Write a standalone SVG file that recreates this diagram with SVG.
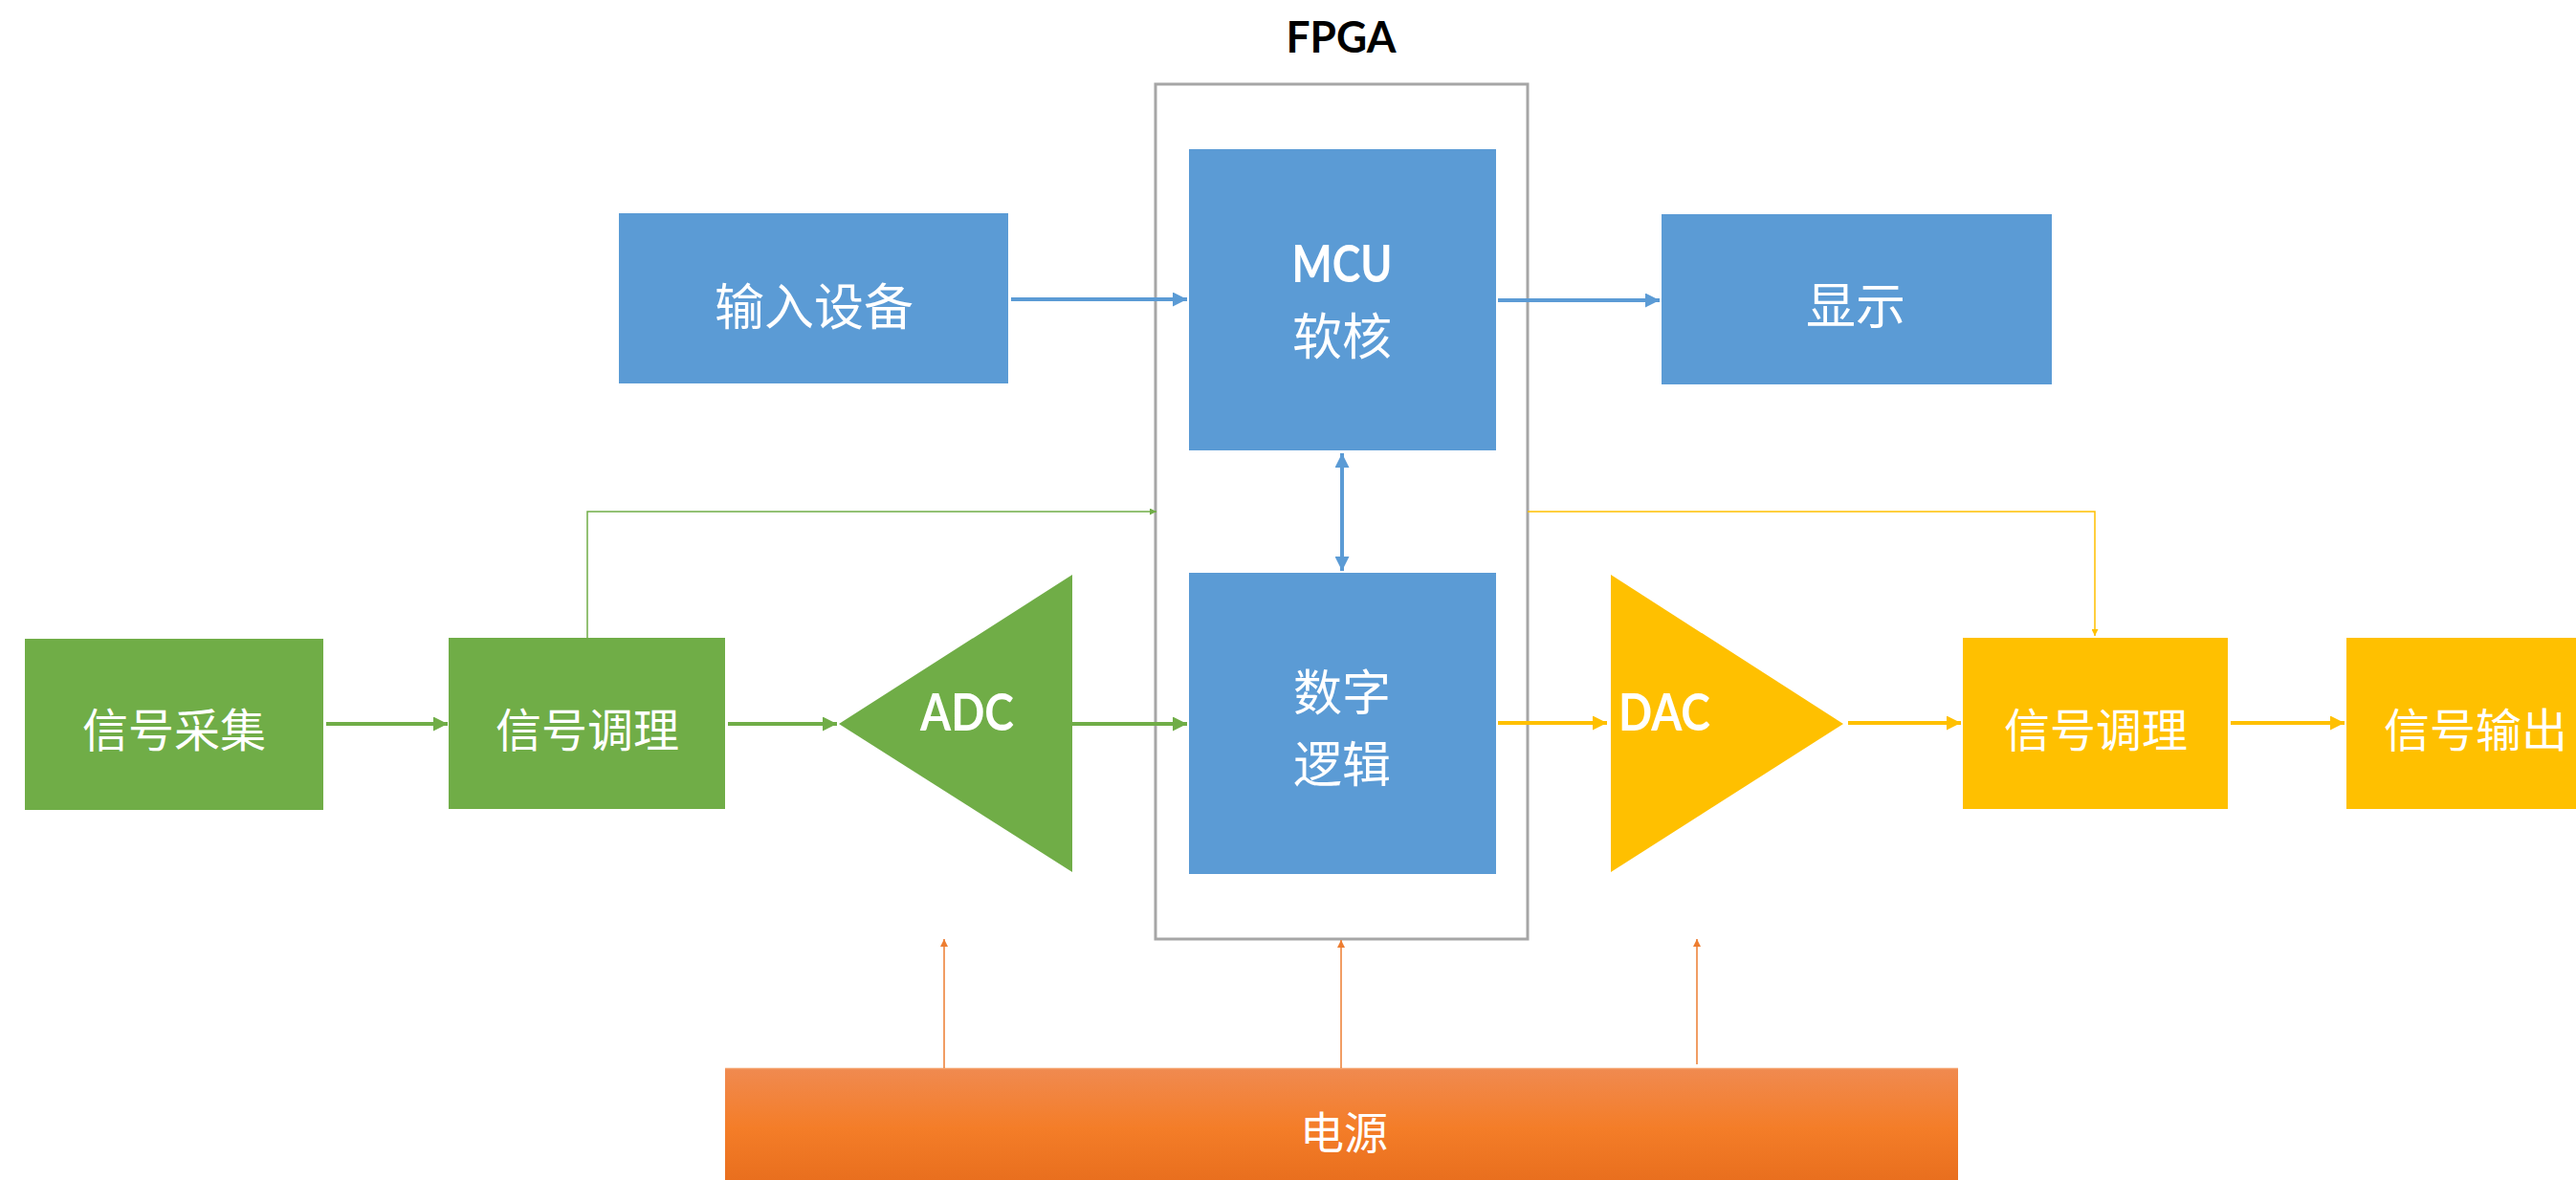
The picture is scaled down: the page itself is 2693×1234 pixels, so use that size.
<svg xmlns="http://www.w3.org/2000/svg" width="2693" height="1234" viewBox="0 0 2693 1234">
  <style>
    .blue { fill: #5b9bd5; }
    .green { fill: #70ad47; }
    .yellow { fill: #ffc000; }
    .cjk { font-family: "Noto Sans CJK SC", sans-serif; fill: #ffffff; text-anchor: middle; dominant-baseline: central; }
    .latin { font-family: Lato, "Open Sans", sans-serif; font-weight: bold; fill: #ffffff; }
    .thick { fill: none; stroke-width: 4; }
    .thin { fill: none; stroke-width: 1.5; }
  </style>
  <defs>
    <linearGradient id="powerFill" x1="0" y1="0" x2="0" y2="1">
      <stop offset="0" stop-color="#f08a50"/>
      <stop offset="0.45" stop-color="#f47d28"/>
      <stop offset="1" stop-color="#e4691a"/>
    </linearGradient>
    <marker id="arrowBlue" markerUnits="userSpaceOnUse" markerWidth="15" markerHeight="15" refX="15" refY="7.5" orient="auto-start-reverse">
      <path d="M0,0 L15,7.5 L0,15 z" fill="#5b9bd5"/>
    </marker>
    <marker id="arrowGreen" markerUnits="userSpaceOnUse" markerWidth="15" markerHeight="15" refX="15" refY="7.5" orient="auto">
      <path d="M0,0 L15,7.5 L0,15 z" fill="#70ad47"/>
    </marker>
    <marker id="arrowYellow" markerUnits="userSpaceOnUse" markerWidth="15" markerHeight="15" refX="15" refY="7.5" orient="auto">
      <path d="M0,0 L15,7.5 L0,15 z" fill="#ffc000"/>
    </marker>
    <marker id="tipGreen" markerUnits="userSpaceOnUse" markerWidth="7" markerHeight="7" refX="7" refY="3.5" orient="auto">
      <path d="M0,0 L7,3.5 L0,7 z" fill="#70ad47"/>
    </marker>
    <marker id="tipYellow" markerUnits="userSpaceOnUse" markerWidth="7" markerHeight="7" refX="7" refY="3.5" orient="auto">
      <path d="M0,0 L7,3.5 L0,7 z" fill="#ffc000"/>
    </marker>
    <marker id="tipOrange" markerUnits="userSpaceOnUse" markerWidth="8" markerHeight="8" refX="8" refY="4" orient="auto">
      <path d="M0,0 L8,4 L0,8 z" fill="#ed7d31"/>
    </marker>
  </defs>

  <rect width="2693" height="1234" fill="#ffffff"/>

  <!-- FPGA container -->
  <g id="fpga">
    <rect x="1208" y="88" width="389" height="894" fill="none" stroke="#a6a6a6" stroke-width="3"/>
    <text x="1402" y="55" font-family="Lato, 'Open Sans', sans-serif" font-weight="bold" font-size="46" fill="#000000" text-anchor="middle" textLength="115" lengthAdjust="spacingAndGlyphs">FPGA</text>
  </g>

  <!-- Blue blocks -->
  <g id="input-device">
    <rect class="blue" x="647" y="223" width="407" height="178"/>
    <text class="cjk" x="851" y="317" font-size="52">输入设备</text>
  </g>
  <g id="mcu-core">
    <rect class="blue" x="1243" y="156" width="321" height="315"/>
    <text class="latin" x="1403" y="295" font-size="53" text-anchor="middle" textLength="105" lengthAdjust="spacingAndGlyphs">MCU</text>
    <text class="cjk" x="1403" y="348" font-size="52">软核</text>
  </g>
  <g id="display">
    <rect class="blue" x="1737" y="224" width="408" height="178"/>
    <text class="cjk" x="1940" y="316" font-size="52">显示</text>
  </g>
  <g id="digital-logic">
    <rect class="blue" x="1243" y="599" width="321" height="315"/>
    <text class="cjk" x="1403" y="721" font-size="51">数字</text>
    <text class="cjk" x="1403" y="796" font-size="51">逻辑</text>
  </g>

  <!-- Input chain (green) -->
  <g id="signal-acquire">
    <rect class="green" x="26" y="668" width="312" height="179"/>
    <text class="cjk" x="182" y="760" font-size="48">信号采集</text>
  </g>
  <g id="signal-cond-in">
    <rect class="green" x="469" y="667" width="289" height="179"/>
    <text class="cjk" x="614" y="760" font-size="48">信号调理</text>
  </g>
  <g id="adc">
    <polygon class="green" points="877,757 1121,601 1121,912"/>
    <text class="latin" x="1011" y="764" font-size="54" text-anchor="middle" textLength="98" lengthAdjust="spacingAndGlyphs">ADC</text>
  </g>

  <!-- Output chain (yellow) -->
  <g id="dac">
    <polygon class="yellow" points="1684,601 1927,757 1684,912"/>
    <text class="latin" x="1692" y="764" font-size="54" textLength="96" lengthAdjust="spacingAndGlyphs">DAC</text>
  </g>
  <g id="signal-cond-out">
    <rect class="yellow" x="2052" y="667" width="277" height="179"/>
    <text class="cjk" x="2191" y="760" font-size="48">信号调理</text>
  </g>
  <g id="signal-output">
    <rect class="yellow" x="2453" y="667" width="277" height="179"/>
    <text class="cjk" x="2588" y="760" font-size="48">信号输出</text>
  </g>

  <!-- Power supply -->
  <g id="power">
    <rect x="758" y="1117" width="1289" height="140" fill="url(#powerFill)"/>
    <line x1="758" y1="1117.5" x2="2047" y2="1117.5" stroke="#f4a26c" stroke-width="1.5"/>
    <text class="cjk" x="1405" y="1181" font-size="46">电源</text>
  </g>

  <!-- Connectors -->
  <g id="connectors">
    <line class="thick" x1="1057" y1="313" x2="1241" y2="313" stroke="#5b9bd5" marker-end="url(#arrowBlue)"/>
    <line class="thick" x1="1566" y1="314" x2="1735" y2="314" stroke="#5b9bd5" marker-end="url(#arrowBlue)"/>
    <line class="thick" x1="1403" y1="474" x2="1403" y2="597" stroke="#5b9bd5" marker-start="url(#arrowBlue)" marker-end="url(#arrowBlue)"/>

    <line class="thick" x1="341" y1="757" x2="468" y2="757" stroke="#70ad47" marker-end="url(#arrowGreen)"/>
    <line class="thick" x1="761" y1="757" x2="875" y2="757" stroke="#70ad47" marker-end="url(#arrowGreen)"/>
    <line class="thick" x1="1121" y1="757" x2="1241" y2="757" stroke="#70ad47" marker-end="url(#arrowGreen)"/>

    <line class="thick" x1="1566" y1="756" x2="1680" y2="756" stroke="#ffc000" marker-end="url(#arrowYellow)"/>
    <line class="thick" x1="1932" y1="756" x2="2050" y2="756" stroke="#ffc000" marker-end="url(#arrowYellow)"/>
    <line class="thick" x1="2332" y1="756" x2="2451" y2="756" stroke="#ffc000" marker-end="url(#arrowYellow)"/>

    <path class="thin" d="M614,667 V535 H1209" stroke="#70ad47" marker-end="url(#tipGreen)"/>
    <path class="thin" d="M1597,535 H2190 V665" stroke="#ffc000" marker-end="url(#tipYellow)"/>

    <line class="thin" x1="987" y1="1117" x2="987" y2="982" stroke="#ed7d31" marker-end="url(#tipOrange)"/>
    <line class="thin" x1="1402" y1="1117" x2="1402" y2="983" stroke="#ed7d31" marker-end="url(#tipOrange)"/>
    <line class="thin" x1="1774" y1="1113" x2="1774" y2="982" stroke="#ed7d31" marker-end="url(#tipOrange)"/>
  </g>
</svg>
